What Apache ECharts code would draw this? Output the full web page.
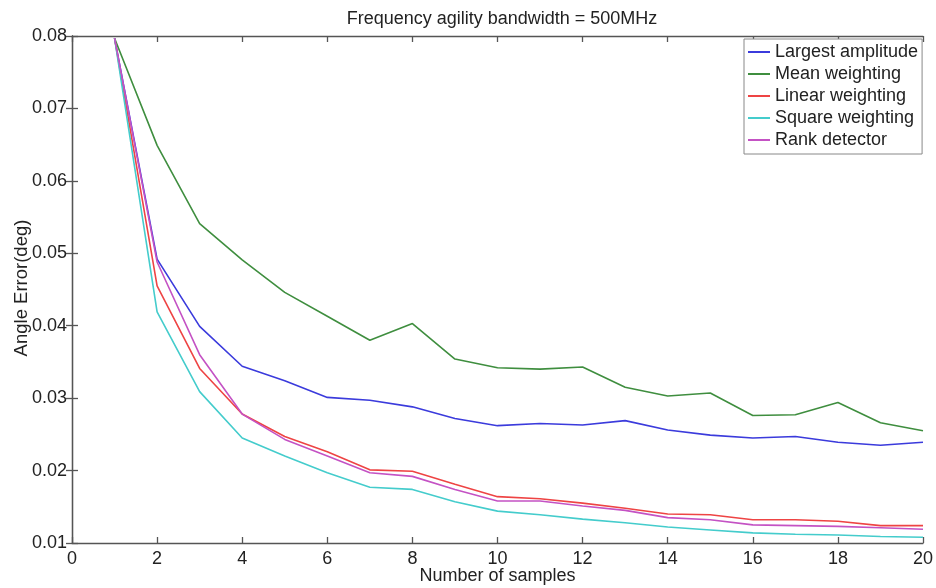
<!DOCTYPE html>
<html>
<head>
<meta charset="utf-8">
<script src="https://cdn.jsdelivr.net/npm/echarts@6/dist/echarts.min.js"></script>
<style>
html,body{margin:0;padding:0;background:#fff;}
#c{width:936px;height:588px;}
</style>
</head>
<body>
<div id="c"></div>
<script>
const samples = [1,2,3,4,5,6,7,8,9,10,11,12,13,14,15,16,17,18,19,20];
const largestAmplitude = [0.0797,0.0492,0.0399,0.0344,0.0324,0.0301,0.0297,0.0288,0.0272,0.0262,0.0265,0.0263,0.0269,0.0256,0.0249,0.0245,0.0247,0.0239,0.0235,0.0239];
const meanWeighting   = [0.0797,0.0649,0.0541,0.0491,0.0446,0.0413,0.0380,0.0403,0.0354,0.0342,0.0340,0.0343,0.0315,0.0303,0.0307,0.0276,0.0277,0.0294,0.0266,0.0255];
const linearWeighting = [0.0797,0.0455,0.0341,0.0278,0.0247,0.0226,0.0201,0.0199,0.0181,0.0164,0.0161,0.0155,0.0148,0.0140,0.0139,0.0132,0.0132,0.0130,0.0124,0.0124];
const squareWeighting = [0.0797,0.0419,0.0309,0.0245,0.0220,0.0197,0.0177,0.0174,0.0157,0.0144,0.0139,0.0133,0.0128,0.0122,0.0118,0.0114,0.0112,0.0111,0.0109,0.0108];
const rankDetector    = [0.0797,0.0488,0.0360,0.0278,0.0243,0.0220,0.0197,0.0192,0.0174,0.0158,0.0158,0.0151,0.0145,0.0135,0.0132,0.0125,0.0124,0.0123,0.0121,0.0119];
const seriesNames = ['Largest amplitude','Mean weighting','Linear weighting','Square weighting','Rank detector'];
const seriesColors = ['#3b3bdc','#3f8e3f','#ee4444','#44cccc','#c452c4'];
const xTicks = {min:0, max:20, interval:2};
const yTicks = {min:0.01, max:0.08, interval:0.01};
const xAxisName = 'Number of samples';
const yAxisName = 'Angle Error(deg)';

const allData = [largestAmplitude, meanWeighting, linearWeighting, squareWeighting, rankDetector];
const font = 'Liberation Sans, Arial, Helvetica, sans-serif';
const txt = '#222';
const axLine = {lineStyle:{color:'#555', width:1.3}};
const tick = {inside:true, length:6, lineStyle:{color:'#555', width:1.3}};

const chart = echarts.init(document.getElementById('c'));
chart.setOption({
  backgroundColor:'#fff',
  animation:false,
  title:{
    text:'Frequency agility bandwidth = 500MHz',
    left:497, top:5, textAlign:'center',
    textStyle:{fontFamily:font, fontSize:18, fontWeight:'normal', color:txt}
  },
  legend:{
    orient:'vertical', left:744, top:39,
    data:seriesNames, icon:'rect',
    itemWidth:22, itemHeight:2, itemGap:4,
    backgroundColor:'#fff', borderColor:'#888', borderWidth:1,
    padding:[4,4,5,4],
    textStyle:{fontFamily:font, fontSize:18, color:txt}
  },
  graphic:[
    {type:'text', x:22, y:288, rotation:Math.PI/2,
     style:{text:yAxisName, font:'18.5px '+font, fill:txt, textAlign:'center', textVerticalAlign:'middle'}},
    {type:'text', x:497.5, y:576,
     style:{text:xAxisName, font:'18px '+font, fill:txt, textAlign:'center', textVerticalAlign:'middle'}}
  ],
  grid:{left:72, right:13, top:36, bottom:45, containLabel:false, outerBoundsMode:'none'},
  xAxis:[
    {type:'value', position:'bottom', min:xTicks.min, max:xTicks.max, interval:xTicks.interval,
     axisLine:axLine, axisTick:tick, splitLine:{show:false},
     axisLabel:{fontFamily:font, fontSize:18, color:txt, margin:7}},
    {type:'value', position:'top', min:xTicks.min, max:xTicks.max, interval:xTicks.interval,
     axisLine:axLine, axisTick:tick, splitLine:{show:false}, axisLabel:{show:false}}
  ],
  yAxis:[
    {type:'value', position:'left', min:yTicks.min, max:yTicks.max, interval:yTicks.interval,
     axisLine:axLine, axisTick:tick, splitLine:{show:false},
     axisLabel:{fontFamily:font, fontSize:18, color:txt, margin:5,
       formatter:v=>v.toFixed(2)}},
    {type:'value', position:'right', min:yTicks.min, max:yTicks.max, interval:yTicks.interval,
     axisLine:axLine, axisTick:tick, splitLine:{show:false}, axisLabel:{show:false}}
  ],
  series: allData.map((d,i)=>({
    name:seriesNames[i], type:'line', symbol:'none',
    xAxisIndex:0, yAxisIndex:0,
    data:samples.map((x,j)=>[x,d[j]]),
    lineStyle:{color:seriesColors[i], width:1.6},
    itemStyle:{color:seriesColors[i]}
  }))
});
</script>
</body>
</html>
